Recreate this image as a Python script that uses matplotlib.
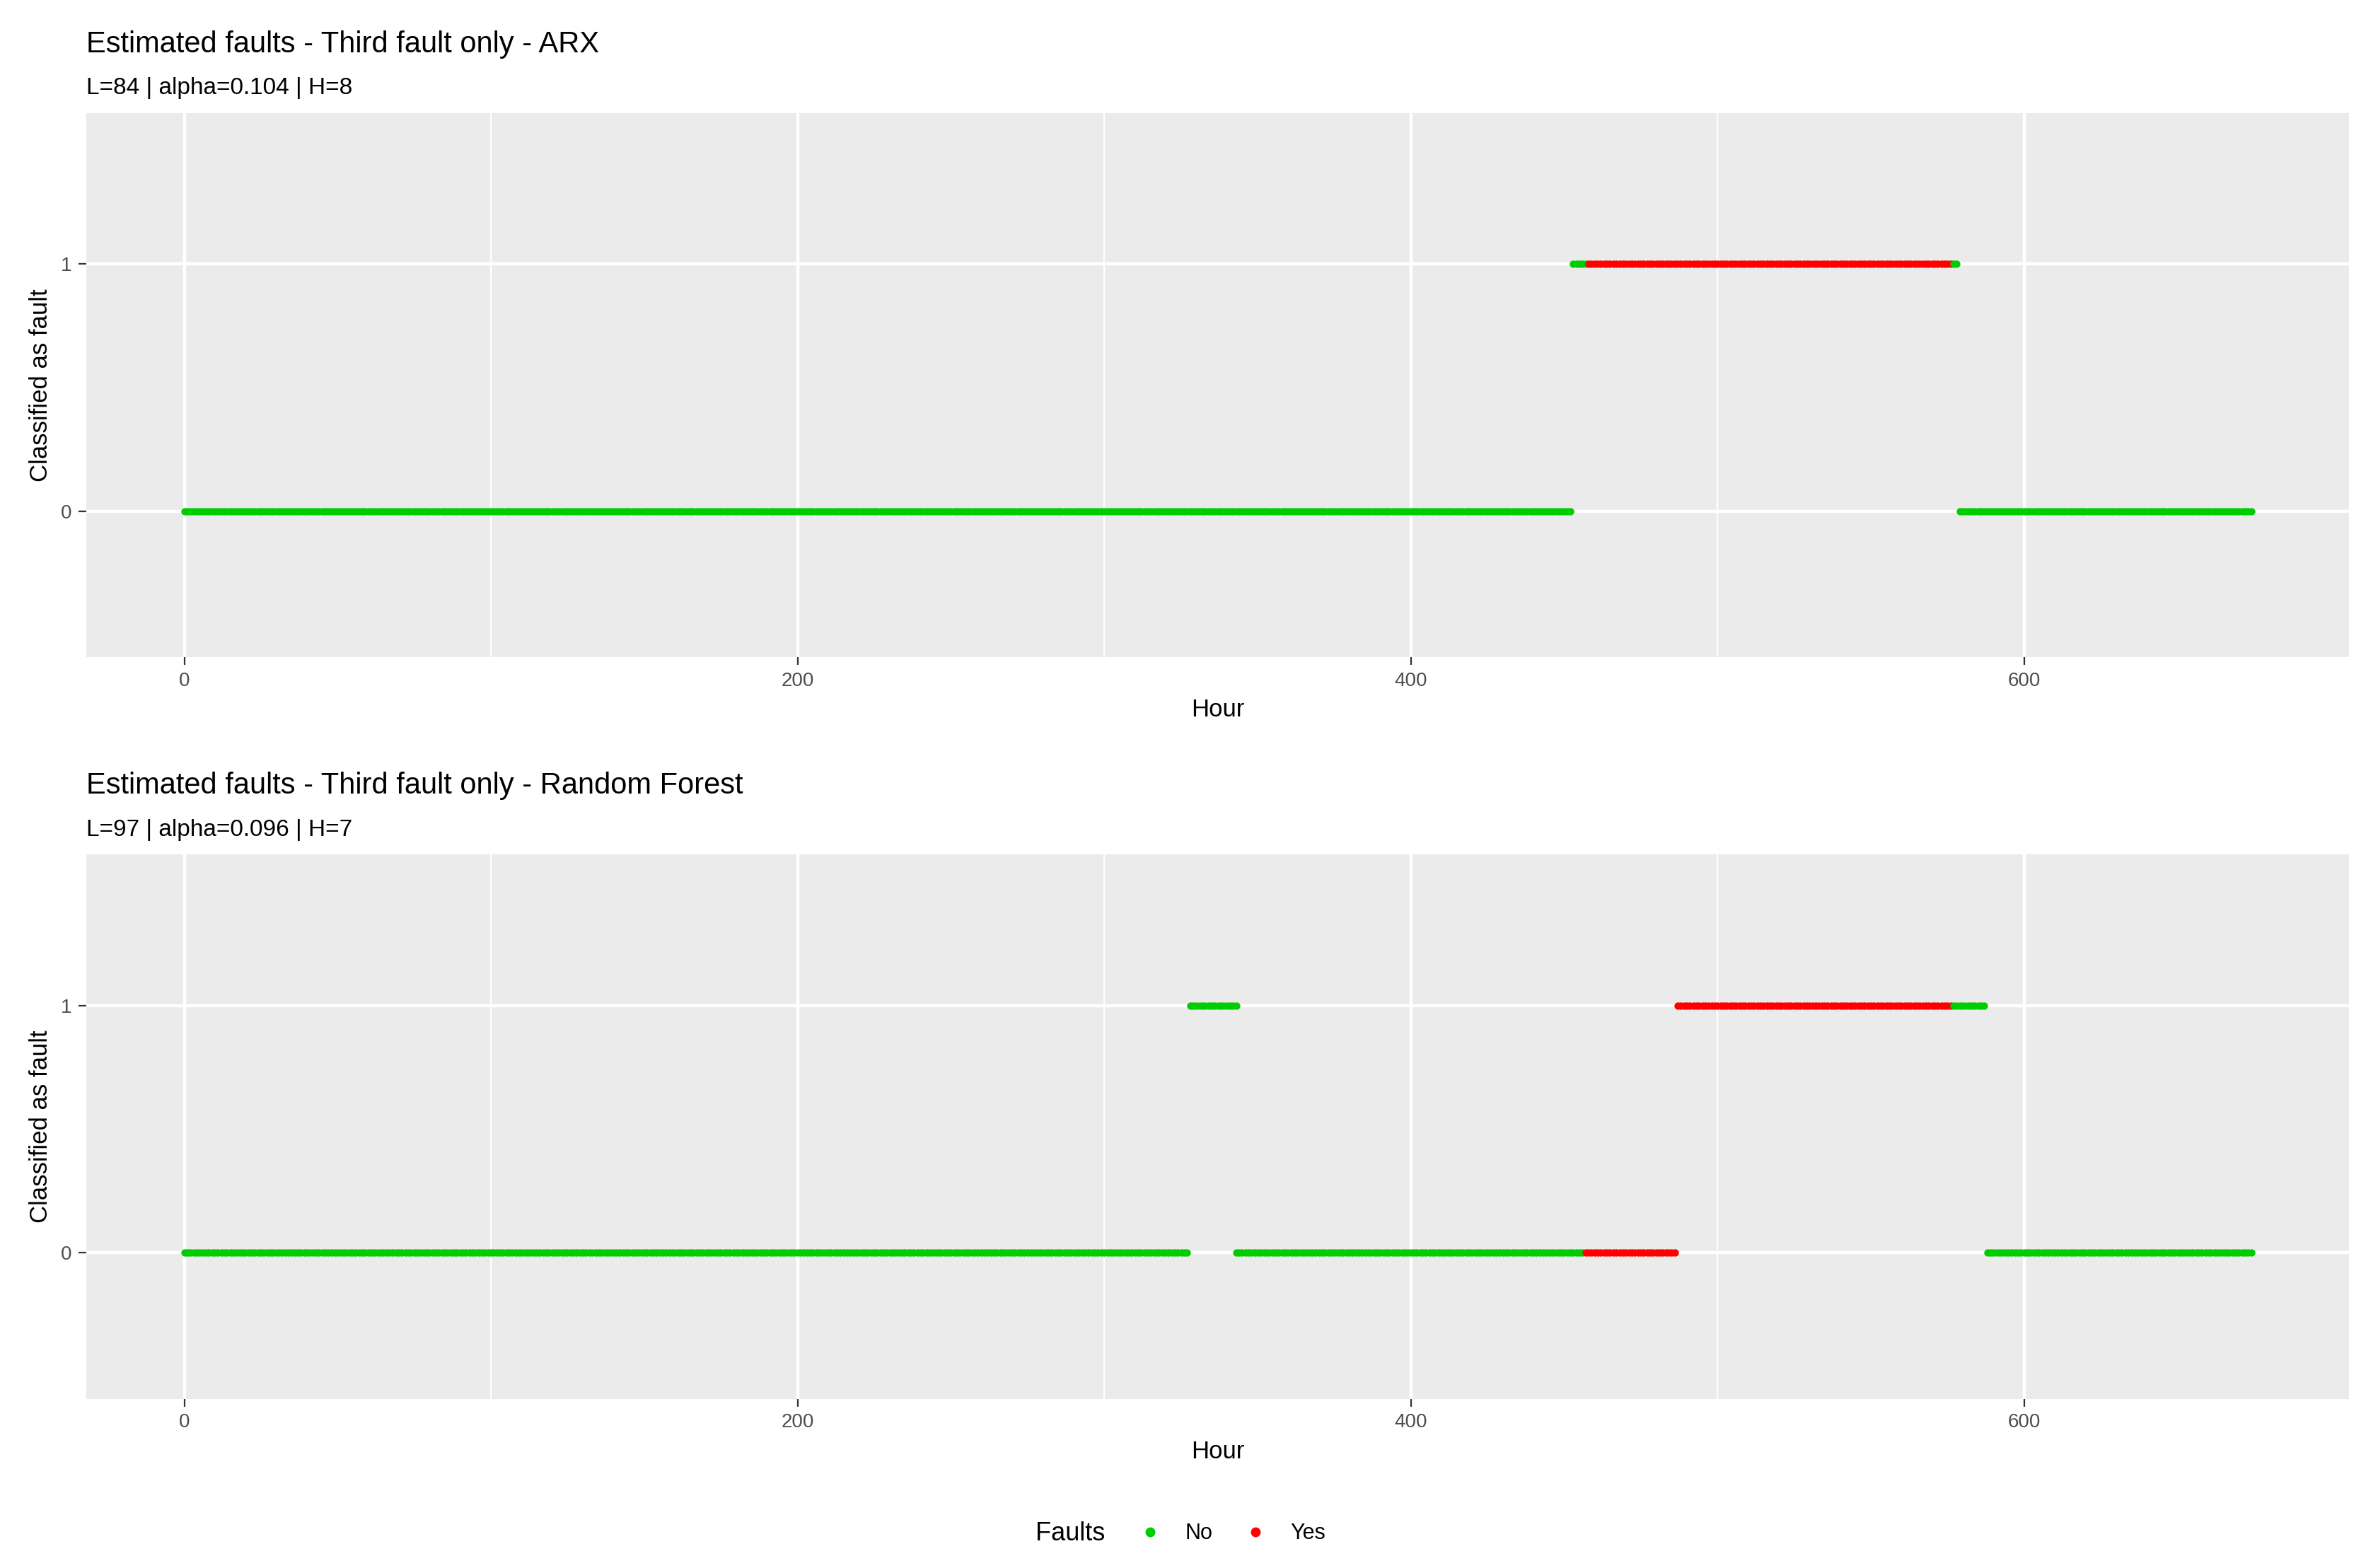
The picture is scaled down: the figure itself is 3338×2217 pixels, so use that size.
import numpy as np
import matplotlib
matplotlib.use("Agg")
import matplotlib.pyplot as plt
from matplotlib.lines import Line2D

# Run-length segments: (start hour, end hour, classified value, fault flag)
arx_start = [0, 453, 458, 577, 579]
arx_end = [452, 457, 576, 578, 674]
arx_value = [0, 1, 1, 1, 0]
arx_fault = ["No", "No", "Yes", "No", "No"]

rf_start = [0, 328, 343, 457, 487, 577, 588]
rf_end = [327, 343, 456, 486, 576, 587, 674]
rf_value = [0, 1, 0, 0, 1, 1, 0]
rf_fault = ["No", "No", "No", "Yes", "Yes", "No", "No"]

titles = ["Estimated faults - Third fault only - ARX",
          "Estimated faults - Third fault only - Random Forest"]
subtitles = ["L=84 | alpha=0.104 | H=8", "L=97 | alpha=0.096 | H=7"]
colors = {"No": "#00CD00", "Yes": "#FF0000"}

W, H = 3338, 2217
dpi = 200
fig = plt.figure(figsize=(W / dpi, H / dpi), dpi=dpi)
plt.rcParams['font.family'] = ['Liberation Sans', 'DejaVu Sans']

panels = [(0.0365, 0.581, 0.9585, 0.347), (0.0365, 0.108, 0.9585, 0.347)]
data = [(arx_start, arx_end, arx_value, arx_fault), (rf_start, rf_end, rf_value, rf_fault)]

for i, (rect, d) in enumerate(zip(panels, data)):
    ax = fig.add_axes(rect)
    ax.set_facecolor("#EBEBEB")
    for s in ax.spines.values():
        s.set_visible(False)
    for xm in [100, 300, 500]:
        ax.axvline(xm, color="white", lw=0.8, zorder=0)
    ax.set_xticks([0, 200, 400, 600])
    ax.set_yticks([0, 1])
    ax.grid(True, color="white", lw=1.6, zorder=0)
    ax.set_axisbelow(True)
    for st, en, v, f in zip(*d):
        hrs = np.arange(st, en + 1)
        ax.scatter(hrs, np.full(len(hrs), v), s=14, color=colors[f], lw=0, zorder=3)
    ax.set_xlim(-32, 706)
    ax.set_ylim(-0.59, 1.61)
    ax.tick_params(colors="#333333", labelsize=10, length=4, color="#333333")
    for lab in ax.get_xticklabels() + ax.get_yticklabels():
        lab.set_color("#4D4D4D")
    ax.set_xlabel("Hour", fontsize=12.5, labelpad=4)
    ax.set_ylabel("Classified as fault", fontsize=12.5, labelpad=4)
    ax.text(0, 1.1, titles[i], transform=ax.transAxes, fontsize=15, ha="left", va="bottom")
    ax.text(0, 1.025, subtitles[i], transform=ax.transAxes, fontsize=12, ha="left", va="bottom")

handles = [Line2D([], [], marker="o", ls="", color=colors[k], markersize=4, label=k) for k in ["No", "Yes"]]
leg = fig.legend(handles=handles, title="Faults", loc="center", bbox_to_anchor=(0.5, 0.022),
                 ncol=2, frameon=False, fontsize=11, title_fontsize=13, handletextpad=0.6,
                 columnspacing=1.0)
leg._legend_box.align = "left"
# place title inline
leg.get_title().set_position((0, 0))
from matplotlib.offsetbox import HPacker
box = leg._legend_box
box.__class__ = HPacker
box.sep = 12
box.align = "center"

fig.savefig("out.png", dpi=dpi)
